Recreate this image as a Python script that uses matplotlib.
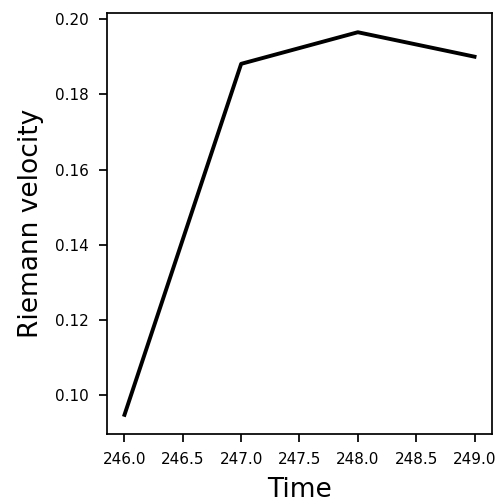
import numpy as np
import matplotlib
matplotlib.use("Agg")
import matplotlib.pyplot as plt

time = [246.0, 247.0, 248.0, 249.0]
velocity = [0.0948, 0.1881, 0.1965, 0.1900]

fig, ax = plt.subplots(figsize=(4.99, 5.04), dpi=100)
ax.plot(time, velocity, color="black", linewidth=2.8)
ax.set_xlabel("Time", fontsize=19, labelpad=7)
ax.set_ylabel("Riemann velocity", fontsize=19, labelpad=8)
ax.set_xticks([246.0, 246.5, 247.0, 247.5, 248.0, 248.5, 249.0])
ax.tick_params(labelsize=11, length=6, width=1.25, pad=7)
for s in ax.spines.values():
    s.set_linewidth(1.25)
fig.subplots_adjust(left=0.2144, right=0.986, top=0.974, bottom=0.139)
fig.savefig("out.png", dpi=100)
